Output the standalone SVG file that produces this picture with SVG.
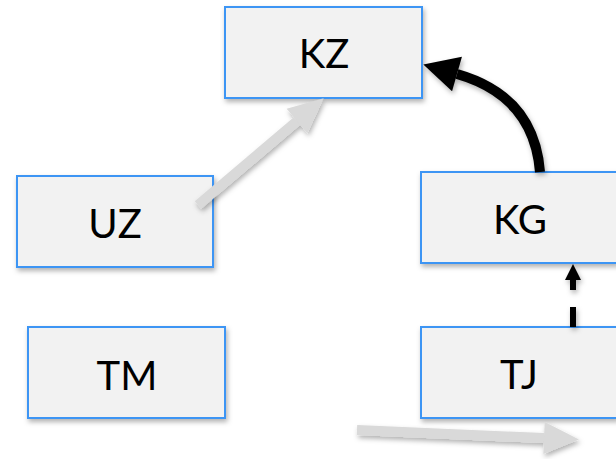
<svg xmlns="http://www.w3.org/2000/svg" width="616" height="459" viewBox="0 0 616 459">
<style>
.node rect{fill:#f2f2f2;stroke:#3c95f4;stroke-width:2;filter:url(#sh)}
.node text{font-family:Lato,"Open Sans","Liberation Sans",sans-serif;font-size:40px;fill:#000;text-anchor:middle}
.gray{stroke:#d9d9d9;stroke-width:10;fill:none}
.blk{stroke:#000;fill:none}
</style>
<defs>
<filter id="sh" x="-20%" y="-20%" width="140%" height="150%">
<feDropShadow dx="1.5" dy="3" stdDeviation="2.5" flood-color="#000" flood-opacity="0.3"/>
</filter>
<marker id="hg" markerUnits="userSpaceOnUse" orient="auto" refX="0" refY="0" markerWidth="40" markerHeight="40" viewBox="0 -20 40 40" overflow="visible">
<path d="M0,-16 L35,0 L0,16 z" fill="#d9d9d9"/>
</marker>
<marker id="hb" markerUnits="userSpaceOnUse" orient="auto" refX="0" refY="0" markerWidth="40" markerHeight="40" viewBox="0 -20 40 40" overflow="visible">
<path d="M0,-18 L35,0 L0,18 z" fill="#000"/>
</marker>
<marker id="hs" markerUnits="userSpaceOnUse" orient="auto" refX="0" refY="0" markerWidth="20" markerHeight="20" viewBox="0 -10 20 20" overflow="visible">
<path d="M0,-8 L16,0 L0,8 z" fill="#000"/>
</marker>
</defs>
<g id="nodes">
<g id="KZ" class="node"><rect x="225" y="7" width="197" height="91"/><text x="324" y="68">KZ</text></g>
<g id="UZ" class="node"><rect x="17" y="176" width="196" height="91"/><text x="115" y="238">UZ</text></g>
<g id="KG" class="node"><rect x="421" y="172" width="196" height="91"/><text x="520" y="234">KG</text></g>
<g id="TM" class="node"><rect x="28" y="327" width="197" height="91"/><text x="127" y="390">TM</text></g>
<g id="TJ" class="node"><rect x="421" y="327" width="196" height="91"/><text x="519" y="389">TJ</text></g>
</g>
<g id="connectors" filter="url(#sh)">
<path class="gray" d="M198,205 L297,121" marker-end="url(#hg)"/>
<path class="blk" stroke-width="10" d="M540,172 Q534,96 457,74" marker-end="url(#hb)"/>
<path class="blk" stroke-width="6" stroke-dasharray="20,17" d="M573,327 L573,280" marker-end="url(#hs)"/>
<path class="gray" d="M357,430 L544,438" marker-end="url(#hg)"/>
</g>
</svg>
